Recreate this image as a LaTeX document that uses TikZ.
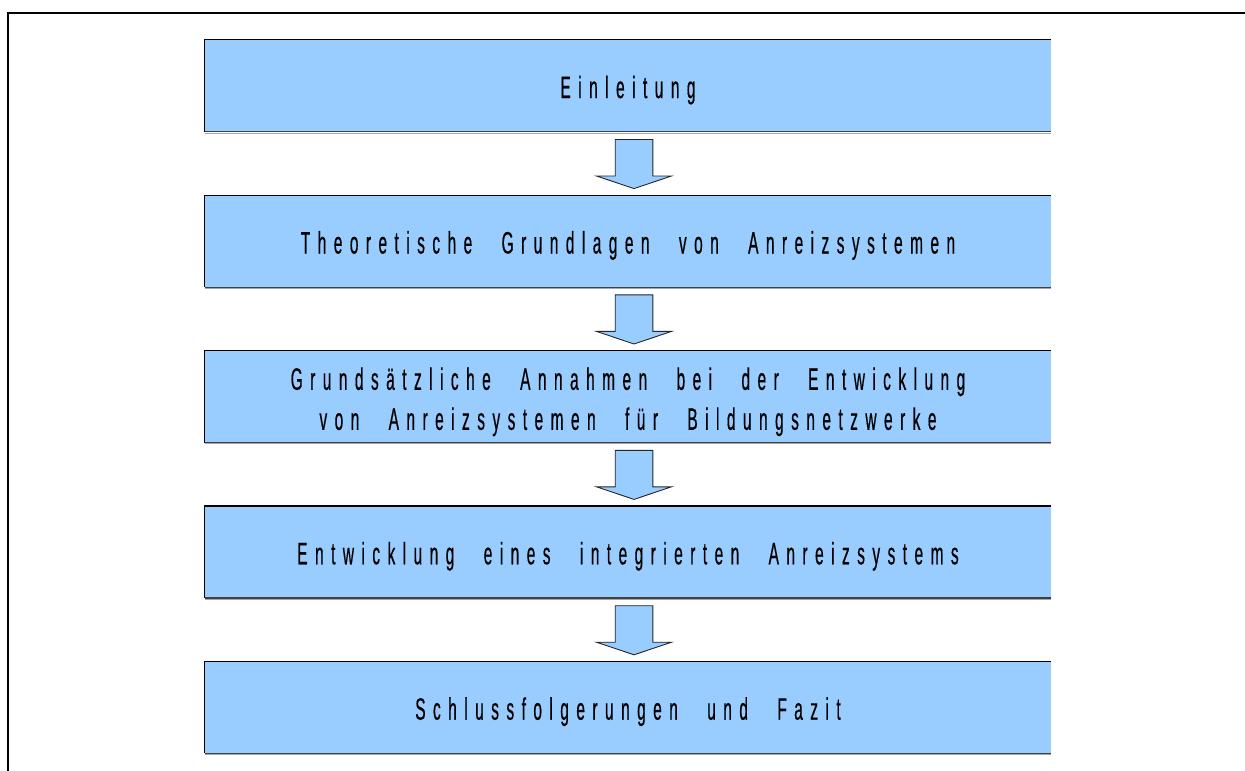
\documentclass[tikz,border=0pt]{standalone}
\usepackage{fontspec}
\usetikzlibrary{calc}
\newfontfamily\stagefont[FakeStretch=0.5,LetterSpace=24,WordSpace=2.5,FakeBold=0.4]{Liberation Sans}
\definecolor{stageblue}{HTML}{99CCFF}

\tikzset{
  stagebox/.style={minimum width=846pt, minimum height=91.5pt, inner sep=0pt,
                   fill=stageblue, draw=none},
  stagetext/.style={anchor=base, inner sep=0pt, font=\stagefont\fontsize{31}{37}\selectfont},
  edgeline/.style={line width=1.2pt, black},
  baseline edge/.style={line width=1.2pt, black!75},
  shadowline/.style={line width=1pt, black!35},
  flowarrow/.style={fill=stageblue, draw=black!85, line width=0.9pt, line join=miter},
  frameline/.style={line width=2pt, black}
}

% block arrow from the bottom of box #1 to the top of box #2
\newcommand\stagearrow[2]{%
  \draw[flowarrow]
    ($(#1.south)+(-12.8,7.8)$) -- ($(#1.south)+(24.8,7.8)$) --
    ($(#2.north)+(24.8,-19.2)$) -- ($(#2.north)+(43.5,-19.2)$) --
    ($(#2.north)+(6,-6.6)$) --
    ($(#2.north)+(-31.5,-19.2)$) -- ($(#2.north)+(-12.8,-19.2)$) -- cycle;
}

% box outline: top, left and bottom edges, with a faint shadow below
\newcommand\boxedges[1]{%
  \draw[edgeline] (#1.south west) -- (#1.north west) -- (#1.north east);
  \draw[shadowline] ($(#1.south west)+(0,1.4)$) -- ($(#1.south east)+(0,1.4)$);
  \draw[baseline edge] (#1.south west) -- (#1.south east);
}

\begin{document}
\begin{tikzpicture}[x=1pt,y=-1pt]
  \useasboundingbox (0,0) rectangle (1245,771);
  \fill[white] (0,0) rectangle (1245,771);

  % page frame
  \draw[frameline] (8,771) -- (8,13) -- (1245,13);

  % stages
  \node[stagebox] (b1) at (628,85.75)  {};
  \node[stagebox] (b2) at (628,241.15) {};
  \node[stagebox] (b3) at (628,396.55) {};
  \node[stagebox] (b4) at (628,551.95) {};
  \node[stagebox] (b5) at (628,707.35) {};

  \foreach \b in {b1,b2,b3,b4,b5} {\boxedges{\b}}

  \node[stagetext] (t1)  at ($(b1.north)+(0,58.3)$) {Einleitung};
  \node[stagetext] (t2)  at ($(b2.north)+(0,58.3)$) {Theoretische Grundlagen von Anreizsystemen};
  \node[stagetext] (t3a) at ($(b3.north)+(0,39.2)$) {Grundsätzliche Annahmen bei der Entwicklung};
  \node[stagetext] (t3b) at ($(b3.north)+(0,79.2)$) {von Anreizsystemen für Bildungsnetzwerke};
  \node[stagetext] (t4)  at ($(b4.north)+(0,58.3)$) {Entwicklung eines integrierten Anreizsystems};
  \node[stagetext] (t5)  at ($(b5.north)+(0,58.3)$) {Schlussfolgerungen und Fazit};

  % connecting arrows
  \stagearrow{b1}{b2}
  \stagearrow{b2}{b3}
  \stagearrow{b3}{b4}
  \stagearrow{b4}{b5}
\end{tikzpicture}
\end{document}
